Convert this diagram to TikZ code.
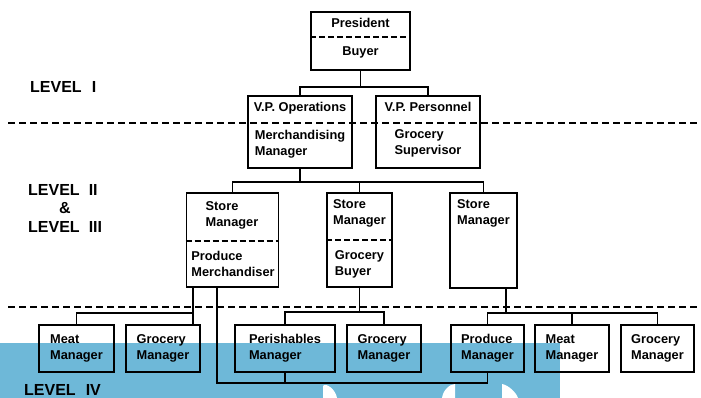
\documentclass[tikz,border=0pt]{standalone}
\usepackage{fontspec}
\setmainfont{Liberation Sans}
\definecolor{bandblue}{RGB}{110,184,216}
\begin{document}
\begin{tikzpicture}[x=1pt,y=-1pt,
  box/.style={draw, line width=1.8pt, rectangle, inner sep=0pt},
  lbl/.style={font=\fontsize{12.8}{15.8}\selectfont\bfseries, align=left, inner sep=0pt},
  lvl/.style={font=\fontsize{16}{18}\selectfont\bfseries, inner sep=0pt, anchor=west},
  wire/.style={line width=1.8pt},
  divider/.style={line width=1.6pt, dash pattern=on 6pt off 3pt},
  levelline/.style={line width=1.7pt, dash pattern=on 7pt off 4pt}]
\useasboundingbox (0,0) rectangle (701,398);

% coloured band along the bottom
\fill[bandblue] (0,343) rectangle (560,398);
\fill[white] (323,398) -- (323,386) .. controls (326,382) and (336,390) .. (337,398) -- cycle;
\fill[white] (442,398) .. controls (443,390) and (450,384) .. (455,384) -- (455,398) -- cycle;
\fill[white] (502,398) -- (502,384) .. controls (508,385) and (516,392) .. (518,398) -- cycle;

% level separators
\draw[levelline] (8,123) -- (701,123);
\draw[levelline] (8,307) -- (701,307);

% level labels
\node[lvl] (lv1) at (30,86.5) {LEVEL\hspace{10pt}I};
\node[lvl] (lv2) at (28,190) {LEVEL\hspace{9pt}II};
\node[lvl, anchor=center] (amp) at (65,208) {\&};
\node[lvl] (lv3) at (28,227) {LEVEL\hspace{9pt}III};
\node[lvl] (lv4) at (24,390) {LEVEL\hspace{10pt}IV};

% top level
\node[box, minimum width=99pt, minimum height=58pt] (pres) at (360.5,41) {};
\draw[divider] (pres.west |- 0,37) -- (pres.east |- 0,37);
\node[lbl] (presT) at (360.5,23) {President};
\node[lbl] (presB) at (360.5,52) {Buyer};

\node[box, minimum width=104pt, minimum height=72pt] (vpo) at (300,132) {};
\node[lbl] (vpoT) at (300,108) {V.P. Operations};
\node[lbl] (vpoB) at (300,144) {Merchandising\\Manager};

\node[box, minimum width=104pt, minimum height=72pt] (vpp) at (428,132) {};
\node[lbl] (vppT) at (428,107) {V.P. Personnel};
\node[lbl] (vppB) at (428,143) {Grocery\\Supervisor};

% store level
\node[box, minimum width=92pt, minimum height=94pt] (sm1) at (232.5,240) {};
\draw[divider] (sm1.west |- 0,241) -- (sm1.east |- 0,241);
\node[lbl] (sm1T) at (232,215) {Store\\Manager};
\node[lbl] (sm1B) at (233,264) {Produce\\Merchandiser};

\node[box, minimum width=65pt, minimum height=94pt] (sm2) at (359.5,240) {};
\draw[divider] (sm2.west |- 0,240) -- (sm2.east |- 0,240);
\node[lbl] (sm2T) at (359.5,213) {Store\\Manager};
\node[lbl] (sm2B) at (359.5,264) {Grocery\\Buyer};

\node[box, minimum width=67pt, minimum height=95pt] (sm3) at (483.5,240.5) {};
\node[lbl] (sm3T) at (483.5,213) {Store\\Manager};

% department level
\node[box, minimum width=75pt, minimum height=47pt] (mm1) at (76.5,348.5) {};
\node[lbl] at (mm1) {Meat\\Manager};
\node[box, minimum width=74pt, minimum height=47pt] (gm1) at (163,348.5) {};
\node[lbl] at (gm1) {Grocery\\Manager};
\node[box, minimum width=100pt, minimum height=47pt] (pm) at (285,348.5) {};
\node[lbl] at (pm) {Perishables\\Manager};
\node[box, minimum width=74pt, minimum height=47pt] (gm2) at (384,348.5) {};
\node[lbl] at (gm2) {Grocery\\Manager};
\node[box, minimum width=73pt, minimum height=47pt] (prm) at (487.5,348.5) {};
\node[lbl] at (prm) {Produce\\Manager};
\node[box, minimum width=74pt, minimum height=47pt] (mm2) at (572,348.5) {};
\node[lbl] at (mm2) {Meat\\Manager};
\node[box, minimum width=73pt, minimum height=47pt] (gm3) at (657.5,348.5) {};
\node[lbl] at (gm3) {Grocery\\Manager};

% connectors
\coordinate (j1) at (360.5,87);
\draw[wire] (pres.south) -- (j1);
\draw[wire] (vpo.north) |- (j1) -| (vpp.north);

\coordinate (j2) at (300,182);
\draw[wire] (vpo.south) -- (j2);
\draw[wire] (sm1.north) |- (j2) -| (sm3.north);
\draw[wire] (sm2.north) -- (sm2.north |- j2);

\coordinate (p1) at (193,313);
\draw[wire] (p1 |- sm1.south) -- (p1 |- gm1.north);
\draw[wire] (p1) -| (mm1.north);

\coordinate (p2) at (217,383);
\draw[wire] (p2 |- sm1.south) -- (p2) -| (prm.south);
\draw[wire] (pm.south) -- (pm.south |- p2);

\coordinate (p3) at (359.5,312);
\draw[wire] (sm2.south) -- (p3);
\draw[wire] (pm.north) |- (p3) -| (gm2.north);

\coordinate (p4) at (506,313);
\draw[wire] (p4 |- sm3.south) -- (p4);
\draw[wire] (prm.north) |- (p4) -| (gm3.north);
\draw[wire] (mm2.north) -- (mm2.north |- p4);
\end{tikzpicture}
\end{document}
